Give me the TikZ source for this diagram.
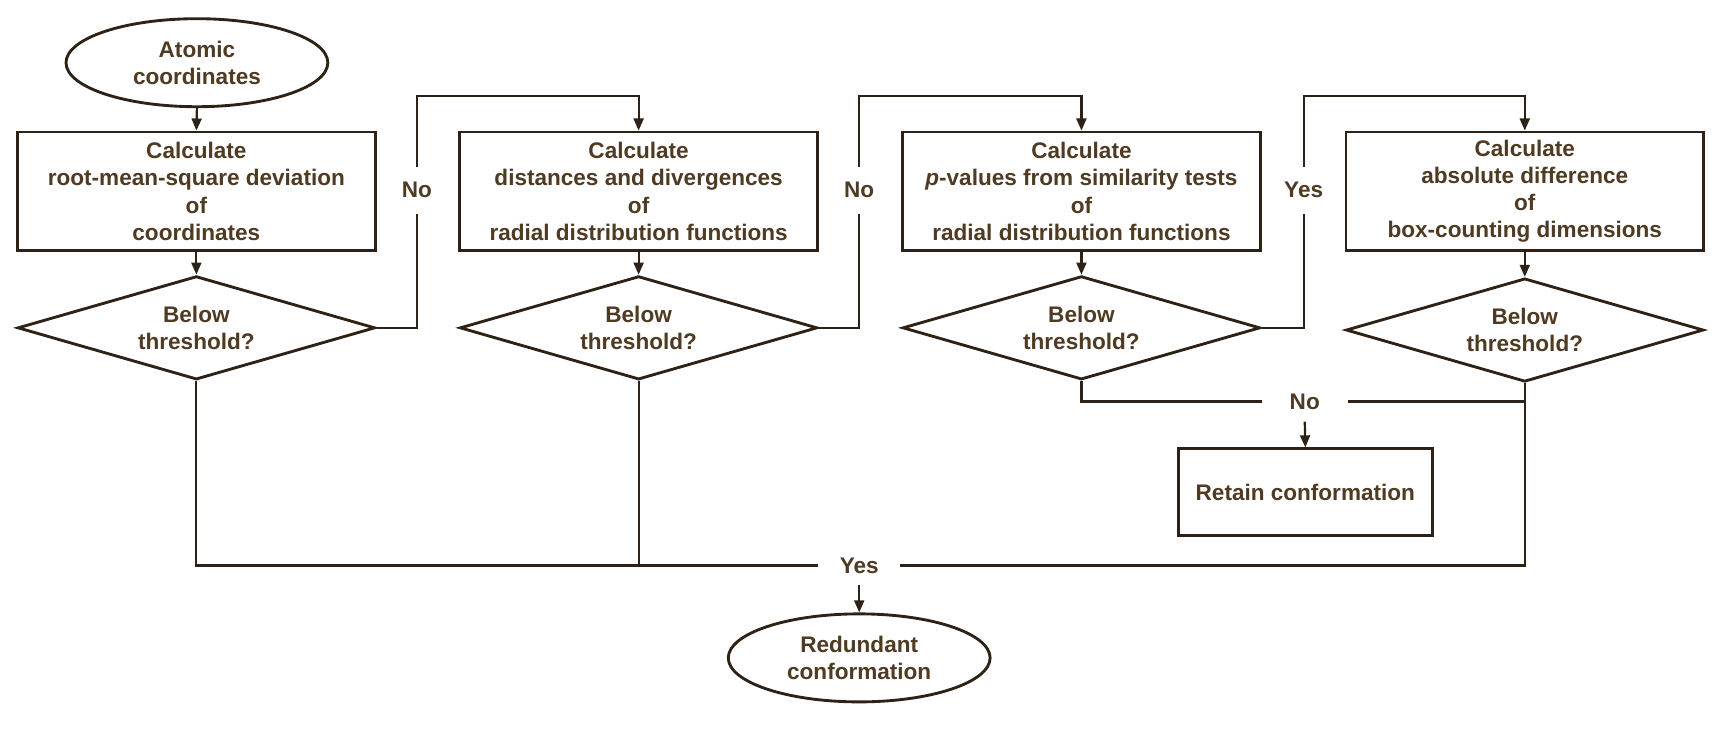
\documentclass[tikz,border=0pt]{standalone}
\usepackage{fontspec}
\setmainfont{Liberation Sans}
\usetikzlibrary{shapes.geometric,arrows.meta,calc}
\definecolor{txt}{HTML}{4F3A22}
\definecolor{ln}{HTML}{2E2216}
\begin{document}
\begin{tikzpicture}[x=1pt,y=-1pt,
 every node/.style={font=\fontsize{20.5}{24.7}\selectfont\bfseries, text=txt},
 proc/.style={draw=ln, line width=2.6pt, minimum width=325pt, minimum height=108pt, align=center, inner sep=0pt},
 dec/.style={diamond, draw=ln, line width=2.6pt, minimum width=325pt, minimum height=94pt, aspect=3.46, align=center, inner sep=0pt},
 term/.style={ellipse, draw=ln, line width=2.6pt, minimum width=238pt, minimum height=80pt, align=center, inner sep=0pt},
 conn/.style={draw=ln, line width=2pt},
 arr/.style={conn, -{Triangle[length=11pt,width=9pt]}},
 vlab/.style={minimum height=42pt, inner sep=0pt},
 hlab/.style={minimum height=36pt, inner sep=0pt}]
\useasboundingbox[fill=white] (0,0) rectangle (1568,667);
\coordinate (top) at (0,87);
% nodes
\node[term] (atom) at (179,57) {Atomic\\coordinates};
\node[proc] (b1) at (178.5,174) {Calculate\\root-mean-square deviation\\of\\coordinates};
\node[proc] (b2) at (580.5,174) {Calculate\\distances and divergences\\of\\radial distribution functions};
\node[proc] (b3) at (983,174) {Calculate\\\textit{p}-values from similarity tests\\of\\radial distribution functions};
\node[proc] (b4) at (1386,174) {Calculate\\absolute difference\\of\\box-counting dimensions};
\node[dec] (d1) at (178.5,298) {Below\\threshold?};
\node[dec] (d2) at (580.5,298) {Below\\threshold?};
\node[dec] (d3) at (983,298) {Below\\threshold?};
\node[dec] (d4) at (1386,300) {Below\\threshold?};
\node[vlab] (no1) at (379,173) {No};
\node[vlab] (no2) at (781,173) {No};
\node[vlab] (yes1) at (1185,173) {Yes};
\node[hlab, minimum width=78pt] (no3) at (1186,365) {No};
\node[hlab, minimum width=74pt] (yes) at (781,514) {Yes};
\node[draw=ln, line width=2.6pt, minimum width=231pt, minimum height=79pt, inner sep=0pt] (ret) at (1186.5,447.5) {Retain conformation};
\node[term] (red) at (781,598) {Redundant\\conformation};
% connectors
\draw[arr] (atom.south) -- (b1.north);
\draw[arr] (b1.south) -- (d1.north);
\draw[arr] (b2.south) -- (d2.north);
\draw[arr] (b3.south) -- (d3.north);
\draw[arr] (b4.south) -- (d4.north);
\draw[conn] (d1.east) -| (no1.south);
\draw[arr] (no1.north) |- (b2.north |- top) -- (b2.north);
\draw[conn] (d2.east) -| (no2.south);
\draw[arr] (no2.north) |- (b3.north |- top) -- (b3.north);
\draw[conn] (d3.east) -| (yes1.south);
\draw[arr] (yes1.north) |- (b4.north |- top) -- (b4.north);
\draw[conn] (d3.south) |- (no3.west);
\draw[conn] (no3.east) -| (d4.south);
\draw[conn] (d4.south) |- (yes.east);
\draw[conn] (d1.south) |- (yes.west);
\draw[conn] (d2.south) -- (d2.south |- yes.west);
\draw[arr] (no3.south) -- (ret.north);
\draw[arr] (yes.south) -- (red.north);
\end{tikzpicture}
\end{document}
